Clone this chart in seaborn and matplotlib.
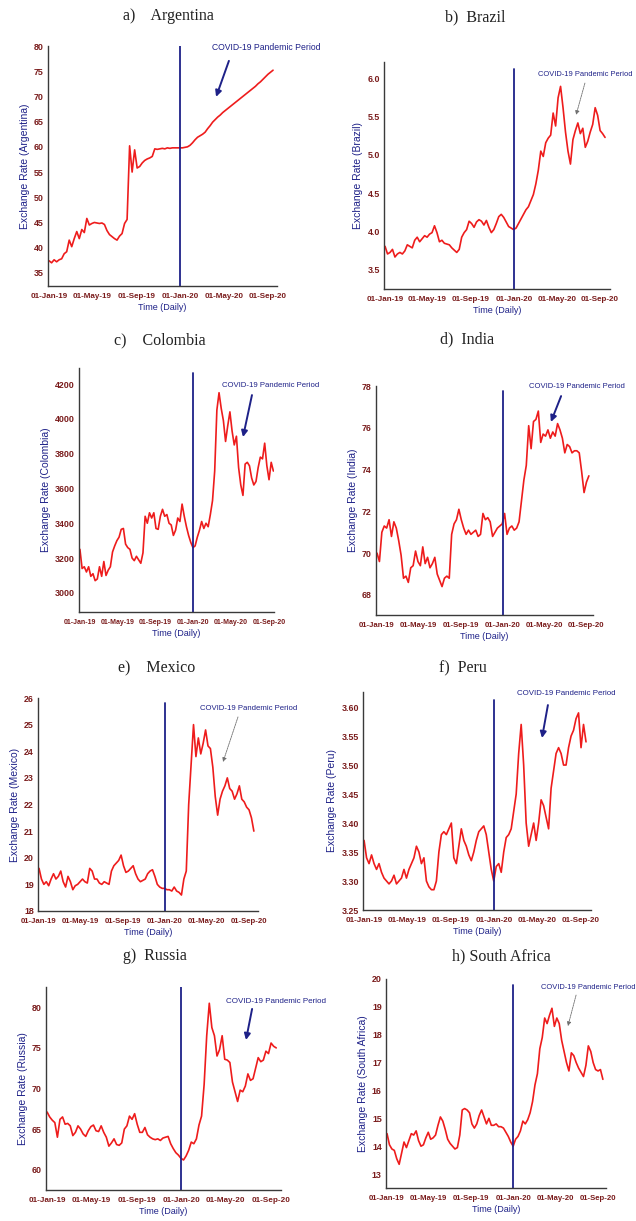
import matplotlib
matplotlib.use('Agg')
import matplotlib.pyplot as plt
import matplotlib.dates as mdates
import numpy as np
import pandas as pd
import seaborn as sns

sns.set_style("white")
plt.rcParams['font.family'] = ['Liberation Sans', 'DejaVu Sans']

# weekly readings, starting 01-Jan-2019
weeks = pd.date_range('2019-01-01', periods=90, freq='7D')

argentina = [37.4, 37.0, 37.6, 37.2, 37.6, 37.8, 38.8, 39.2, 41.5, 40.2,
             41.8, 43.2, 41.8, 43.6, 43.0, 45.8, 44.5, 44.8, 45.0, 44.9,
             44.8, 44.9, 44.6, 43.4, 42.6, 42.2, 41.8, 41.5, 42.3, 42.8,
             44.8, 45.6, 60.2, 55.0, 59.4, 55.8, 56.1, 56.8, 57.3, 57.6,
             57.8, 58.1, 59.6, 59.5, 59.6, 59.7, 59.6, 59.8, 59.7, 59.8,
             59.8, 59.8, 59.8, 59.8, 59.9, 60.0, 60.3, 60.8, 61.4, 61.9,
             62.2, 62.5, 62.9, 63.6, 64.2, 64.9, 65.4, 65.9, 66.3, 66.8,
             67.2, 67.6, 68.0, 68.4, 68.8, 69.2, 69.6, 70.0, 70.4, 70.8,
             71.2, 71.6, 72.0, 72.5, 72.9, 73.4, 73.9, 74.4, 74.8, 75.2]

brazil = [3.80, 3.70, 3.72, 3.76, 3.66, 3.70, 3.72, 3.70, 3.74, 3.82,
          3.80, 3.78, 3.88, 3.92, 3.86, 3.90, 3.94, 3.92, 3.96, 3.98,
          4.07, 3.98, 3.86, 3.88, 3.84, 3.83, 3.82, 3.78, 3.75, 3.72,
          3.76, 3.92, 3.98, 4.02, 4.13, 4.10, 4.05, 4.12, 4.15, 4.13,
          4.08, 4.14, 4.05, 3.98, 4.02, 4.10, 4.19, 4.22, 4.18, 4.12,
          4.06, 4.04, 4.02, 4.04, 4.10, 4.16, 4.22, 4.28, 4.32, 4.40,
          4.48, 4.62, 4.80, 5.05, 4.98, 5.16, 5.22, 5.26, 5.55, 5.38,
          5.75, 5.90, 5.62, 5.30, 5.05, 4.88, 5.20, 5.32, 5.42, 5.28,
          5.35, 5.10, 5.18, 5.30, 5.40, 5.62, 5.52, 5.32, 5.28, 5.23]

colombia = [3250, 3140, 3150, 3120, 3150, 3095, 3110, 3070, 3080, 3150,
            3095, 3180, 3100, 3130, 3150, 3235, 3270, 3300, 3320, 3365,
            3370, 3280, 3260, 3250, 3200, 3185, 3210, 3190, 3170, 3230,
            3440, 3400, 3460, 3430, 3460, 3370, 3365, 3440, 3480, 3440,
            3450, 3400, 3390, 3330, 3360, 3430, 3410, 3510, 3440, 3380,
            3330, 3290, 3260, 3270, 3320, 3360, 3410, 3370, 3400, 3380,
            3450, 3530, 3700, 4050, 4150, 4060, 3990, 3870, 3960, 4040,
            3930, 3850, 3900, 3720, 3620, 3560, 3740, 3750, 3730, 3660,
            3620, 3640, 3720, 3780, 3770, 3860, 3730, 3650, 3750, 3700]

india = [70.0, 69.6, 71.0, 71.3, 71.2, 71.6, 70.8, 71.5, 71.2, 70.6,
         69.9, 68.8, 68.9, 68.6, 69.3, 69.4, 70.1, 69.6, 69.4, 70.3,
         69.5, 69.8, 69.3, 69.5, 69.8, 69.0, 68.7, 68.4, 68.8, 68.9,
         68.8, 70.9, 71.4, 71.6, 72.1, 71.6, 71.2, 70.9, 71.1, 70.9,
         71.0, 71.1, 70.8, 70.9, 71.9, 71.6, 71.7, 71.5, 70.8, 71.0,
         71.2, 71.3, 71.4, 71.9, 70.9, 71.2, 71.3, 71.1, 71.2, 71.5,
         72.5, 73.5, 74.2, 76.1, 75.0, 76.3, 76.4, 76.8, 75.3, 75.7,
         75.6, 75.9, 75.5, 75.8, 75.6, 76.2, 75.9, 75.5, 74.8, 75.2,
         75.1, 74.8, 74.9, 74.9, 74.8, 73.9, 72.9, 73.4, 73.7]

mexico = [19.6, 19.2, 19.0, 19.1, 18.95, 19.2, 19.4, 19.2, 19.3, 19.5,
          19.1, 18.9, 19.3, 19.1, 18.8, 18.95, 19.0, 19.1, 19.2, 19.1,
          19.05, 19.6, 19.5, 19.2, 19.2, 19.05, 19.0, 19.1, 19.05, 19.0,
          19.5, 19.7, 19.8, 19.9, 20.1, 19.7, 19.45, 19.5, 19.6, 19.7,
          19.4, 19.2, 19.1, 19.15, 19.2, 19.4, 19.5, 19.55, 19.3, 19.0,
          18.9, 18.85, 18.85, 18.8, 18.8, 18.75, 18.9, 18.75, 18.7, 18.6,
          19.2, 19.5, 22.0, 23.5, 25.0, 23.8, 24.5, 23.9, 24.3, 24.8,
          24.2, 24.1, 23.4, 22.3, 21.6, 22.2, 22.5, 22.7, 23.0, 22.6,
          22.5, 22.2, 22.4, 22.7, 22.2, 22.1, 21.9, 21.8, 21.5, 21.0]

peru = [3.370, 3.340, 3.330, 3.345, 3.330, 3.320, 3.330, 3.315, 3.305, 3.300,
        3.295, 3.300, 3.310, 3.295, 3.300, 3.305, 3.320, 3.305, 3.320, 3.330,
        3.340, 3.360, 3.350, 3.330, 3.340, 3.300, 3.290, 3.285, 3.285, 3.300,
        3.350, 3.380, 3.385, 3.380, 3.390, 3.400, 3.340, 3.330, 3.360, 3.390,
        3.370, 3.360, 3.345, 3.335, 3.350, 3.370, 3.385, 3.390, 3.395, 3.380,
        3.350, 3.320, 3.300, 3.325, 3.330, 3.315, 3.350, 3.375, 3.380, 3.390,
        3.420, 3.450, 3.520, 3.570, 3.500, 3.400, 3.360, 3.380, 3.400, 3.370,
        3.400, 3.440, 3.430, 3.410, 3.390, 3.460, 3.490, 3.520, 3.530, 3.520,
        3.500, 3.500, 3.530, 3.550, 3.560, 3.580, 3.590, 3.530, 3.570, 3.540]

russia = [67.1, 66.5, 66.1, 65.8, 64.0, 66.2, 66.5, 65.6, 65.7, 65.4,
          64.2, 64.6, 65.4, 65.0, 64.4, 64.1, 64.8, 65.3, 65.5, 64.8,
          64.7, 65.4, 64.6, 64.0, 62.9, 63.3, 63.8, 63.1, 63.0, 63.3,
          65.0, 65.4, 66.6, 66.2, 66.9, 65.6, 64.6, 64.6, 65.2, 64.3,
          64.0, 63.8, 63.7, 63.8, 63.6, 63.9, 64.0, 64.1, 63.2, 62.6,
          62.1, 61.8, 61.4, 61.2, 61.7, 62.4, 63.4, 63.2, 63.8, 65.5,
          66.6, 70.5, 76.5, 80.5, 77.5, 76.5, 74.0, 74.8, 76.5, 73.6,
          73.5, 73.2, 70.8, 69.6, 68.4, 69.8, 69.6, 70.3, 71.8, 71.0,
          71.2, 72.5, 73.8, 73.3, 73.5, 74.6, 74.3, 75.6, 75.2, 75.0]

south_africa = [14.45, 14.05, 13.90, 13.85, 13.55, 13.35, 13.75, 14.15, 13.95, 14.20,
                14.45, 14.40, 14.55, 14.20, 14.00, 14.05, 14.30, 14.50, 14.25, 14.30,
                14.40, 14.75, 15.05, 14.90, 14.60, 14.25, 14.10, 14.00, 13.90, 13.95,
                14.40, 15.30, 15.35, 15.30, 15.20, 14.80, 14.65, 14.80, 15.10, 15.30,
                15.05, 14.80, 15.00, 14.75, 14.75, 14.80, 14.70, 14.70, 14.65, 14.50,
                14.35, 14.15, 14.00, 14.25, 14.35, 14.55, 14.90, 14.80, 14.95, 15.20,
                15.60, 16.20, 16.60, 17.50, 17.90, 18.60, 18.40, 18.70, 18.95, 18.30,
                18.60, 18.40, 17.80, 17.40, 17.00, 16.70, 17.35, 17.25, 17.00, 16.80,
                16.65, 16.50, 16.90, 17.60, 17.40, 17.00, 16.75, 16.70, 16.75, 16.40]

tick_dates = pd.to_datetime(['2019-01-01', '2019-05-01', '2019-09-01',
                             '2020-01-01', '2020-05-01', '2020-09-01'])
covid_start = pd.Timestamp('2020-01-01')

RED = '#EE1C1C'
NAVY = '#1E2188'
MAROON = '#7A1C1C'
W, H = 636, 1221

# box = (left, right, top, bottom) in pixels
panels = [
    dict(title='a)    Argentina', name='Argentina', y=argentina, box=(48, 277, 46, 286),
         tpos=(168, 16), ylim=(32.4, 80), yticks=np.arange(35, 81, 5), fmt='%.0f',
         xend='2020-09-26', vtop=1.0, text=(0.716, 0.992), tail=(0.790, 0.938),
         head=(0.734, 0.788), thin=False, tsize=6.2, xsize=5.8),
    dict(title='b)  Brazil', name='Brazil', y=brazil, box=(384, 610, 62, 289),
         tpos=(475, 17), ylim=(3.24, 6.22), yticks=np.arange(3.5, 6.01, 0.5), fmt='%.1f',
         xend='2020-09-29', vtop=0.969, text=(0.68, 0.947), tail=(0.889, 0.907),
         head=(0.850, 0.767), thin=True, tsize=5.4, xsize=5.8),
    dict(title='c)    Colombia', name='Colombia', y=colombia, box=(79, 274, 368, 612),
         tpos=(160, 340), ylim=(2890, 4292), yticks=np.arange(3000, 4201, 200), fmt='%.0f',
         xend='2020-09-17', vtop=0.98, text=(0.733, 0.930), tail=(0.887, 0.889),
         head=(0.841, 0.717), thin=False, tsize=5.6, xsize=5.0),
    dict(title='d)  India', name='India', y=india, box=(376, 593, 386, 615),
         tpos=(467, 339), ylim=(67.04, 78), yticks=np.arange(68, 79, 2), fmt='%.0f',
         xend='2020-09-20', vtop=0.978, text=(0.705, 1.0), tail=(0.853, 0.956),
         head=(0.806, 0.843), thin=False, tsize=5.5, xsize=5.6),
    dict(title='e)    Mexico', name='Mexico', y=mexico, box=(38, 258, 698, 911),
         tpos=(157, 668), ylim=(18, 26), yticks=np.arange(18, 27, 1), fmt='%.0f',
         xend='2020-09-27', vtop=0.977, text=(0.736, 0.953), tail=(0.909, 0.911),
         head=(0.841, 0.700), thin=True, tsize=5.6, xsize=5.6),
    dict(title='f)  Peru', name='Peru', y=peru, box=(363, 591, 692, 910),
         tpos=(463, 668), ylim=(3.25, 3.626), yticks=np.arange(3.25, 3.601, 0.05), fmt='%.2f',
         xend='2020-09-29', vtop=0.963, text=(0.675, 0.991), tail=(0.811, 0.940),
         head=(0.785, 0.789), thin=False, tsize=5.7, xsize=5.8),
    dict(title='g)  Russia', name='Russia', y=russia, box=(46, 281, 987, 1190),
         tpos=(155, 956), ylim=(57.5, 82.5), yticks=np.arange(60, 81, 5), fmt='%.0f',
         xend='2020-09-28', vtop=1.0, text=(0.766, 0.931), tail=(0.877, 0.892),
         head=(0.851, 0.739), thin=False, tsize=5.8, xsize=5.9),
    dict(title='h) South Africa', name='South Africa', y=south_africa, box=(386, 606, 979, 1188),
         tpos=(501, 956), ylim=(12.5, 20), yticks=np.arange(13, 21, 1), fmt='%.0f',
         xend='2020-09-24', vtop=0.971, text=(0.705, 0.957), tail=(0.864, 0.923),
         head=(0.827, 0.775), thin=True, tsize=5.4, xsize=5.6),
]

fig = plt.figure(figsize=(W / 100, H / 100), dpi=100)

for p in panels:
    l, r, t, b = p['box']
    ax = fig.add_axes([l / W, 1 - b / H, (r - l) / W, (b - t) / H])
    vals = p['y']
    sns.lineplot(x=weeks[:len(vals)], y=vals, ax=ax, color=RED, lw=1.2)
    ax.axvline(covid_start, ymin=0, ymax=p['vtop'], color=NAVY, lw=1.3)

    ax.set_xlim(pd.Timestamp('2018-12-29'), pd.Timestamp(p['xend']))
    ax.set_ylim(*p['ylim'])
    ax.set_xticks(tick_dates)
    ax.xaxis.set_major_formatter(mdates.DateFormatter('%d-%b-%y'))
    ax.set_yticks(p['yticks'])
    ax.yaxis.set_major_formatter(matplotlib.ticker.FormatStrFormatter(p['fmt']))
    ax.tick_params(length=0, labelcolor=MAROON)
    ax.tick_params(axis='x', pad=5, labelsize=p['xsize'])
    ax.tick_params(axis='y', pad=3, labelsize=6.4)
    for lab in ax.get_xticklabels() + ax.get_yticklabels():
        lab.set_fontweight('bold')

    ax.set_ylabel(f"Exchange Rate ({p['name']})", color=NAVY, fontsize=7.5, labelpad=3)
    ax.set_xlabel('Time (Daily)', color=NAVY, fontsize=6.5, labelpad=2)

    sns.despine(ax=ax)
    for side in ['left', 'bottom']:
        ax.spines[side].set_color('#3a3a3a')
        ax.spines[side].set_linewidth(1.0)

    if p['thin']:
        arrow = dict(arrowstyle='-|>', color='#707070', lw=0.6, ls=(0, (2, 1)),
                     mutation_scale=6, shrinkA=0, shrinkB=0)
    else:
        arrow = dict(arrowstyle='-|>', color=NAVY, lw=1.4,
                     mutation_scale=9, shrinkA=0, shrinkB=0)
    ax.annotate('', xy=p['head'], xytext=p['tail'], xycoords='axes fraction',
                textcoords='axes fraction', arrowprops=arrow, annotation_clip=False)
    ax.text(p['text'][0], p['text'][1], 'COVID-19 Pandemic Period', transform=ax.transAxes,
            color=NAVY, fontsize=p['tsize'], ha='left', va='center', clip_on=False)

    tx, ty = p['tpos']
    fig.text(tx / W, 1 - ty / H, p['title'], ha='center', va='center',
             family='Liberation Serif', fontsize=11.5, color='#222222')

fig.savefig('out.png', dpi=100)
